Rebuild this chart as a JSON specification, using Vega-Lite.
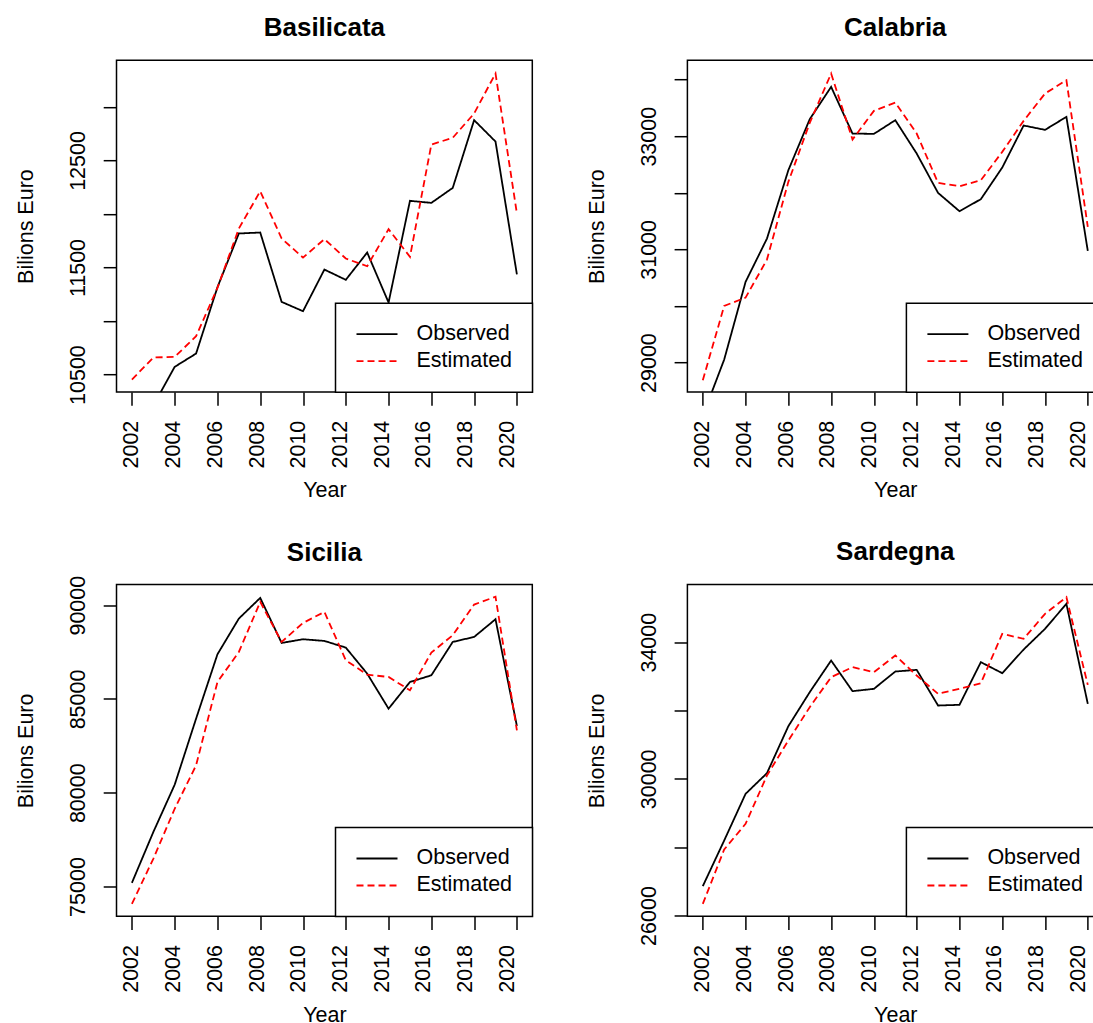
{
  "$schema": "https://vega.github.io/schema/vega-lite/v6.json",
  "padding": {"left": 14.5, "top": 14.2, "right": 0, "bottom": 0},
  "background": "white",
  "data": {
    "values": [
      {"region": "Basilicata", "year": 2002, "series": "Observed", "value": 10080},
      {"region": "Basilicata", "year": 2003, "series": "Observed", "value": 10210},
      {"region": "Basilicata", "year": 2004, "series": "Observed", "value": 10572},
      {"region": "Basilicata", "year": 2005, "series": "Observed", "value": 10696},
      {"region": "Basilicata", "year": 2006, "series": "Observed", "value": 11316},
      {"region": "Basilicata", "year": 2007, "series": "Observed", "value": 11818},
      {"region": "Basilicata", "year": 2008, "series": "Observed", "value": 11827},
      {"region": "Basilicata", "year": 2009, "series": "Observed", "value": 11179},
      {"region": "Basilicata", "year": 2010, "series": "Observed", "value": 11092},
      {"region": "Basilicata", "year": 2011, "series": "Observed", "value": 11481},
      {"region": "Basilicata", "year": 2012, "series": "Observed", "value": 11385},
      {"region": "Basilicata", "year": 2013, "series": "Observed", "value": 11640},
      {"region": "Basilicata", "year": 2014, "series": "Observed", "value": 11173},
      {"region": "Basilicata", "year": 2015, "series": "Observed", "value": 12123},
      {"region": "Basilicata", "year": 2016, "series": "Observed", "value": 12104},
      {"region": "Basilicata", "year": 2017, "series": "Observed", "value": 12244},
      {"region": "Basilicata", "year": 2018, "series": "Observed", "value": 12877},
      {"region": "Basilicata", "year": 2019, "series": "Observed", "value": 12677},
      {"region": "Basilicata", "year": 2020, "series": "Observed", "value": 11435},
      {"region": "Basilicata", "year": 2002, "series": "Estimated", "value": 10453},
      {"region": "Basilicata", "year": 2003, "series": "Estimated", "value": 10659},
      {"region": "Basilicata", "year": 2004, "series": "Estimated", "value": 10665},
      {"region": "Basilicata", "year": 2005, "series": "Estimated", "value": 10858},
      {"region": "Basilicata", "year": 2006, "series": "Estimated", "value": 11310},
      {"region": "Basilicata", "year": 2007, "series": "Estimated", "value": 11864},
      {"region": "Basilicata", "year": 2008, "series": "Estimated", "value": 12213},
      {"region": "Basilicata", "year": 2009, "series": "Estimated", "value": 11771},
      {"region": "Basilicata", "year": 2010, "series": "Estimated", "value": 11593},
      {"region": "Basilicata", "year": 2011, "series": "Estimated", "value": 11765},
      {"region": "Basilicata", "year": 2012, "series": "Estimated", "value": 11584},
      {"region": "Basilicata", "year": 2013, "series": "Estimated", "value": 11512},
      {"region": "Basilicata", "year": 2014, "series": "Estimated", "value": 11858},
      {"region": "Basilicata", "year": 2015, "series": "Estimated", "value": 11600},
      {"region": "Basilicata", "year": 2016, "series": "Estimated", "value": 12649},
      {"region": "Basilicata", "year": 2017, "series": "Estimated", "value": 12712},
      {"region": "Basilicata", "year": 2018, "series": "Estimated", "value": 12939},
      {"region": "Basilicata", "year": 2019, "series": "Estimated", "value": 13313},
      {"region": "Basilicata", "year": 2020, "series": "Estimated", "value": 12005},
      {"region": "Calabria", "year": 2002, "series": "Observed", "value": 28060},
      {"region": "Calabria", "year": 2003, "series": "Observed", "value": 29053},
      {"region": "Calabria", "year": 2004, "series": "Observed", "value": 30426},
      {"region": "Calabria", "year": 2005, "series": "Observed", "value": 31191},
      {"region": "Calabria", "year": 2006, "series": "Observed", "value": 32399},
      {"region": "Calabria", "year": 2007, "series": "Observed", "value": 33300},
      {"region": "Calabria", "year": 2008, "series": "Observed", "value": 33872},
      {"region": "Calabria", "year": 2009, "series": "Observed", "value": 33047},
      {"region": "Calabria", "year": 2010, "series": "Observed", "value": 33041},
      {"region": "Calabria", "year": 2011, "series": "Observed", "value": 33283},
      {"region": "Calabria", "year": 2012, "series": "Observed", "value": 32694},
      {"region": "Calabria", "year": 2013, "series": "Observed", "value": 31998},
      {"region": "Calabria", "year": 2014, "series": "Observed", "value": 31675},
      {"region": "Calabria", "year": 2015, "series": "Observed", "value": 31887},
      {"region": "Calabria", "year": 2016, "series": "Observed", "value": 32446},
      {"region": "Calabria", "year": 2017, "series": "Observed", "value": 33189},
      {"region": "Calabria", "year": 2018, "series": "Observed", "value": 33112},
      {"region": "Calabria", "year": 2019, "series": "Observed", "value": 33342},
      {"region": "Calabria", "year": 2020, "series": "Observed", "value": 30973},
      {"region": "Calabria", "year": 2002, "series": "Estimated", "value": 28688},
      {"region": "Calabria", "year": 2003, "series": "Estimated", "value": 30001},
      {"region": "Calabria", "year": 2004, "series": "Estimated", "value": 30148},
      {"region": "Calabria", "year": 2005, "series": "Estimated", "value": 30820},
      {"region": "Calabria", "year": 2006, "series": "Estimated", "value": 32193},
      {"region": "Calabria", "year": 2007, "series": "Estimated", "value": 33236},
      {"region": "Calabria", "year": 2008, "series": "Estimated", "value": 34107},
      {"region": "Calabria", "year": 2009, "series": "Estimated", "value": 32941},
      {"region": "Calabria", "year": 2010, "series": "Estimated", "value": 33448},
      {"region": "Calabria", "year": 2011, "series": "Estimated", "value": 33595},
      {"region": "Calabria", "year": 2012, "series": "Estimated", "value": 33047},
      {"region": "Calabria", "year": 2013, "series": "Estimated", "value": 32175},
      {"region": "Calabria", "year": 2014, "series": "Estimated", "value": 32116},
      {"region": "Calabria", "year": 2015, "series": "Estimated", "value": 32222},
      {"region": "Calabria", "year": 2016, "series": "Estimated", "value": 32723},
      {"region": "Calabria", "year": 2017, "series": "Estimated", "value": 33271},
      {"region": "Calabria", "year": 2018, "series": "Estimated", "value": 33754},
      {"region": "Calabria", "year": 2019, "series": "Estimated", "value": 33990},
      {"region": "Calabria", "year": 2020, "series": "Estimated", "value": 31398},
      {"region": "Sicilia", "year": 2002, "series": "Observed", "value": 75196},
      {"region": "Sicilia", "year": 2003, "series": "Observed", "value": 77900},
      {"region": "Sicilia", "year": 2004, "series": "Observed", "value": 80426},
      {"region": "Sicilia", "year": 2005, "series": "Observed", "value": 83948},
      {"region": "Sicilia", "year": 2006, "series": "Observed", "value": 87382},
      {"region": "Sicilia", "year": 2007, "series": "Observed", "value": 89285},
      {"region": "Sicilia", "year": 2008, "series": "Observed", "value": 90388},
      {"region": "Sicilia", "year": 2009, "series": "Observed", "value": 87987},
      {"region": "Sicilia", "year": 2010, "series": "Observed", "value": 88183},
      {"region": "Sicilia", "year": 2011, "series": "Observed", "value": 88094},
      {"region": "Sicilia", "year": 2012, "series": "Observed", "value": 87738},
      {"region": "Sicilia", "year": 2013, "series": "Observed", "value": 86350},
      {"region": "Sicilia", "year": 2014, "series": "Observed", "value": 84482},
      {"region": "Sicilia", "year": 2015, "series": "Observed", "value": 85905},
      {"region": "Sicilia", "year": 2016, "series": "Observed", "value": 86261},
      {"region": "Sicilia", "year": 2017, "series": "Observed", "value": 88040},
      {"region": "Sicilia", "year": 2018, "series": "Observed", "value": 88307},
      {"region": "Sicilia", "year": 2019, "series": "Observed", "value": 89250},
      {"region": "Sicilia", "year": 2020, "series": "Observed", "value": 83557},
      {"region": "Sicilia", "year": 2002, "series": "Estimated", "value": 74075},
      {"region": "Sicilia", "year": 2003, "series": "Estimated", "value": 76477},
      {"region": "Sicilia", "year": 2004, "series": "Estimated", "value": 79145},
      {"region": "Sicilia", "year": 2005, "series": "Estimated", "value": 81458},
      {"region": "Sicilia", "year": 2006, "series": "Estimated", "value": 85905},
      {"region": "Sicilia", "year": 2007, "series": "Estimated", "value": 87506},
      {"region": "Sicilia", "year": 2008, "series": "Estimated", "value": 90175},
      {"region": "Sicilia", "year": 2009, "series": "Estimated", "value": 88040},
      {"region": "Sicilia", "year": 2010, "series": "Estimated", "value": 89054},
      {"region": "Sicilia", "year": 2011, "series": "Estimated", "value": 89641},
      {"region": "Sicilia", "year": 2012, "series": "Estimated", "value": 87062},
      {"region": "Sicilia", "year": 2013, "series": "Estimated", "value": 86297},
      {"region": "Sicilia", "year": 2014, "series": "Estimated", "value": 86172},
      {"region": "Sicilia", "year": 2015, "series": "Estimated", "value": 85461},
      {"region": "Sicilia", "year": 2016, "series": "Estimated", "value": 87471},
      {"region": "Sicilia", "year": 2017, "series": "Estimated", "value": 88396},
      {"region": "Sicilia", "year": 2018, "series": "Estimated", "value": 90033},
      {"region": "Sicilia", "year": 2019, "series": "Estimated", "value": 90450},
      {"region": "Sicilia", "year": 2020, "series": "Estimated", "value": 83326},
      {"region": "Sardegna", "year": 2002, "series": "Observed", "value": 26859},
      {"region": "Sardegna", "year": 2003, "series": "Observed", "value": 28195},
      {"region": "Sardegna", "year": 2004, "series": "Observed", "value": 29561},
      {"region": "Sardegna", "year": 2005, "series": "Observed", "value": 30166},
      {"region": "Sardegna", "year": 2006, "series": "Observed", "value": 31541},
      {"region": "Sardegna", "year": 2007, "series": "Observed", "value": 32537},
      {"region": "Sardegna", "year": 2008, "series": "Observed", "value": 33463},
      {"region": "Sardegna", "year": 2009, "series": "Observed", "value": 32566},
      {"region": "Sardegna", "year": 2010, "series": "Observed", "value": 32634},
      {"region": "Sardegna", "year": 2011, "series": "Observed", "value": 33141},
      {"region": "Sardegna", "year": 2012, "series": "Observed", "value": 33190},
      {"region": "Sardegna", "year": 2013, "series": "Observed", "value": 32146},
      {"region": "Sardegna", "year": 2014, "series": "Observed", "value": 32166},
      {"region": "Sardegna", "year": 2015, "series": "Observed", "value": 33415},
      {"region": "Sardegna", "year": 2016, "series": "Observed", "value": 33093},
      {"region": "Sardegna", "year": 2017, "series": "Observed", "value": 33785},
      {"region": "Sardegna", "year": 2018, "series": "Observed", "value": 34390},
      {"region": "Sardegna", "year": 2019, "series": "Observed", "value": 35122},
      {"region": "Sardegna", "year": 2020, "series": "Observed", "value": 32195},
      {"region": "Sardegna", "year": 2002, "series": "Estimated", "value": 26341},
      {"region": "Sardegna", "year": 2003, "series": "Estimated", "value": 27932},
      {"region": "Sardegna", "year": 2004, "series": "Estimated", "value": 28683},
      {"region": "Sardegna", "year": 2005, "series": "Estimated", "value": 30098},
      {"region": "Sardegna", "year": 2006, "series": "Estimated", "value": 31122},
      {"region": "Sardegna", "year": 2007, "series": "Estimated", "value": 32098},
      {"region": "Sardegna", "year": 2008, "series": "Estimated", "value": 32976},
      {"region": "Sardegna", "year": 2009, "series": "Estimated", "value": 33268},
      {"region": "Sardegna", "year": 2010, "series": "Estimated", "value": 33122},
      {"region": "Sardegna", "year": 2011, "series": "Estimated", "value": 33610},
      {"region": "Sardegna", "year": 2012, "series": "Estimated", "value": 33024},
      {"region": "Sardegna", "year": 2013, "series": "Estimated", "value": 32488},
      {"region": "Sardegna", "year": 2014, "series": "Estimated", "value": 32634},
      {"region": "Sardegna", "year": 2015, "series": "Estimated", "value": 32800},
      {"region": "Sardegna", "year": 2016, "series": "Estimated", "value": 34244},
      {"region": "Sardegna", "year": 2017, "series": "Estimated", "value": 34097},
      {"region": "Sardegna", "year": 2018, "series": "Estimated", "value": 34829},
      {"region": "Sardegna", "year": 2019, "series": "Estimated", "value": 35317},
      {"region": "Sardegna", "year": 2020, "series": "Estimated", "value": 32751}
    ]
  },
  "columns": 2,
  "bounds": "flush",
  "spacing": {"row": 192.3, "column": 154.9},
  "concat": [
    {
      "title": "Basilicata",
      "width": 415.8,
      "height": 331.7,
      "transform": [{"filter": "datum.region == 'Basilicata'"}],
      "mark": {"type": "line", "clip": true, "strokeWidth": 1.8},
      "encoding": {
        "x": {"field": "year", "type": "quantitative", "scale": {"domain": [2001.28, 2020.72], "nice": false, "zero": false},
              "axis": {"title": "Year", "format": "d", "values": [2002, 2004, 2006, 2008, 2010, 2012, 2014, 2016, 2018, 2020]}},
        "y": {"field": "value", "type": "quantitative", "scale": {"domain": [10338, 13437], "nice": false, "zero": false},
              "axis": {"title": "Bilions Euro", "format": "d", "values": [10500, 11000, 11500, 12000, 12500, 13000],
                       "labelExpr": "datum.value % 1000 == 500 ? datum.label : ''"}},
        "color": {"field": "series", "type": "nominal", "scale": {"domain": ["Observed", "Estimated"], "range": ["black", "red"]}, "legend": {"title": null}},
        "strokeDash": {"field": "series", "type": "nominal", "scale": {"domain": ["Observed", "Estimated"], "range": [[1, 0], [7, 4]]}, "legend": {"title": null}}
      }
    },
    {
      "title": "Calabria",
      "width": 415.8,
      "height": 331.7,
      "transform": [{"filter": "datum.region == 'Calabria'"}],
      "mark": {"type": "line", "clip": true, "strokeWidth": 1.8},
      "encoding": {
        "x": {"field": "year", "type": "quantitative", "scale": {"domain": [2001.28, 2020.72], "nice": false, "zero": false},
              "axis": {"title": "Year", "format": "d", "values": [2002, 2004, 2006, 2008, 2010, 2012, 2014, 2016, 2018, 2020]}},
        "y": {"field": "value", "type": "quantitative", "scale": {"domain": [28482, 34343], "nice": false, "zero": false},
              "axis": {"title": "Bilions Euro", "format": "d", "values": [29000, 30000, 31000, 32000, 33000, 34000],
                       "labelExpr": "(datum.value / 1000) % 2 == 1 ? datum.label : ''"}},
        "color": {"field": "series", "type": "nominal", "scale": {"domain": ["Observed", "Estimated"], "range": ["black", "red"]}, "legend": {"title": null}},
        "strokeDash": {"field": "series", "type": "nominal", "scale": {"domain": ["Observed", "Estimated"], "range": [[1, 0], [7, 4]]}, "legend": {"title": null}}
      }
    },
    {
      "title": {"text": "Sicilia", "offset": 9},
      "width": 415.8,
      "height": 331.7,
      "transform": [{"filter": "datum.region == 'Sicilia'"}],
      "mark": {"type": "line", "clip": true, "strokeWidth": 1.8},
      "encoding": {
        "x": {"field": "year", "type": "quantitative", "scale": {"domain": [2001.28, 2020.72], "nice": false, "zero": false},
              "axis": {"title": "Year", "format": "d", "values": [2002, 2004, 2006, 2008, 2010, 2012, 2014, 2016, 2018, 2020]}},
        "y": {"field": "value", "type": "quantitative", "scale": {"domain": [73417, 91103], "nice": false, "zero": false},
              "axis": {"title": "Bilions Euro", "format": "d", "values": [75000, 80000, 85000, 90000]}},
        "color": {"field": "series", "type": "nominal", "scale": {"domain": ["Observed", "Estimated"], "range": ["black", "red"]}, "legend": {"title": null}},
        "strokeDash": {"field": "series", "type": "nominal", "scale": {"domain": ["Observed", "Estimated"], "range": [[1, 0], [7, 4]]}, "legend": {"title": null}}
      }
    },
    {
      "title": "Sardegna",
      "width": 415.8,
      "height": 331.7,
      "transform": [{"filter": "datum.region == 'Sardegna'"}],
      "mark": {"type": "line", "clip": true, "strokeWidth": 1.8},
      "encoding": {
        "x": {"field": "year", "type": "quantitative", "scale": {"domain": [2001.28, 2020.72], "nice": false, "zero": false},
              "axis": {"title": "Year", "format": "d", "values": [2002, 2004, 2006, 2008, 2010, 2012, 2014, 2016, 2018, 2020]}},
        "y": {"field": "value", "type": "quantitative", "scale": {"domain": [25980, 35688], "nice": false, "zero": false},
              "axis": {"title": "Bilions Euro", "format": "d", "values": [26000, 28000, 30000, 32000, 34000],
                       "labelExpr": "(datum.value / 2000) % 2 == 1 ? datum.label : ''"}},
        "color": {"field": "series", "type": "nominal", "scale": {"domain": ["Observed", "Estimated"], "range": ["black", "red"]}, "legend": {"title": null}},
        "strokeDash": {"field": "series", "type": "nominal", "scale": {"domain": ["Observed", "Estimated"], "range": [[1, 0], [7, 4]]}, "legend": {"title": null}}
      }
    }
  ],
  "resolve": {
    "scale": {"x": "independent", "y": "independent", "color": "independent", "strokeDash": "independent"},
    "axis": {"x": "independent", "y": "independent"},
    "legend": {"color": "independent", "strokeDash": "independent"}
  },
  "config": {
    "font": "Liberation Sans",
    "view": {"stroke": "black", "strokeWidth": 1.5},
    "axis": {
      "grid": false, "domain": false,
      "tickColor": "black", "tickWidth": 1.5, "tickSize": 13.3,
      "labelFontSize": 21.5, "labelColor": "black", "labelFont": "Liberation Sans",
      "titleFontSize": 21.5, "titleFontWeight": "normal", "titleColor": "black", "titleFont": "Liberation Sans",
      "labelOverlap": false, "labelFlush": false, "labelBound": false
    },
    "axisX": {
      "labelAngle": 270, "labelAlign": "right", "labelBaseline": "middle", "labelPadding": 15,
      "labelOffset": {"expr": "-(datum.value - 2002) * 0.53"},
      "titleX": 207.9, "titleY": 105, "titleBaseline": "alphabetic", "titleAlign": "center"
    },
    "axisY": {
      "labelAngle": 270, "labelAlign": "center", "labelBaseline": "alphabetic", "labelPadding": 18.4,
      "titleAngle": 270, "titleX": -84, "titleY": 165.9, "titleBaseline": "alphabetic", "titleAlign": "center"
    },
    "legend": {
      "orient": "bottom-right", "offset": 0, "padding": 20,
      "fillColor": "white", "strokeColor": "black", "strokeWidth": 1.5,
      "labelFontSize": 21.5, "labelColor": "black", "labelFont": "Liberation Sans", "labelOffset": 18,
      "symbolType": "stroke", "symbolSize": 1681, "symbolStrokeWidth": 1.8,
      "clipHeight": 22, "rowPadding": 5
    },
    "title": {"fontSize": 26, "fontWeight": "bold", "color": "black", "font": "Liberation Sans", "anchor": "middle", "frame": "group", "offset": 19, "baseline": "alphabetic"}
  }
}
